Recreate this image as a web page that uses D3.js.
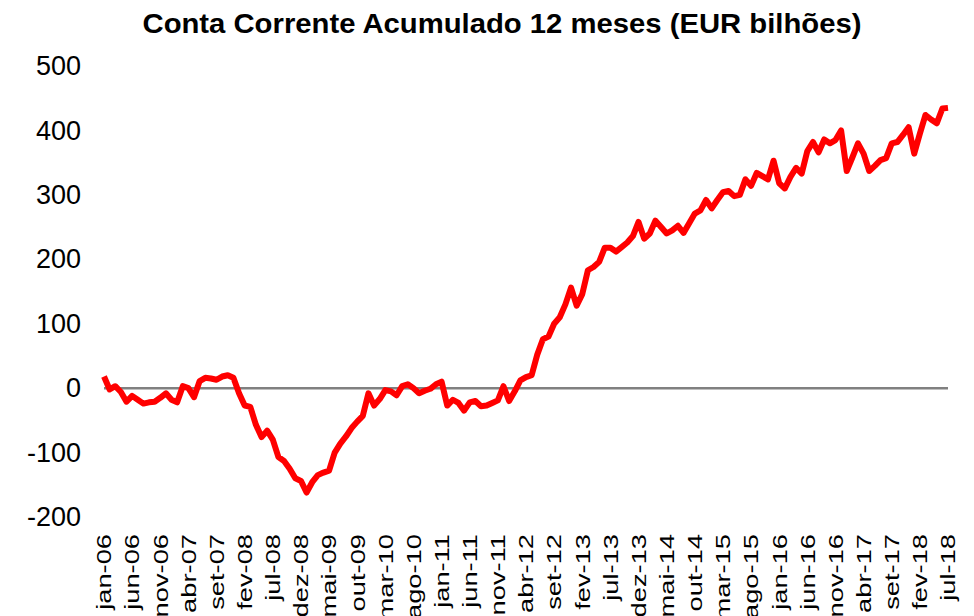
<!DOCTYPE html>
<html>
<head>
<meta charset="utf-8">
<script src="https://cdn.jsdelivr.net/npm/d3@7"></script>
<style>
  body { margin: 0; background: #fff; }
  svg { display: block; font-family: Arial, "Liberation Sans", sans-serif; }
</style>
</head>
<body>
<svg id="chart" width="974" height="616"></svg>
<script>
// month names (pt) and years covered: jan-06 .. jul-18
const monthNames = ["jan", "fev", "mar", "abr", "mai", "jun", "jul", "ago", "set", "out", "nov", "dez"];
const tickEvery = 5;

// 12-month cumulative current account, EUR bn
const values = [
   18,  -2,   3,  -6, -21, -12, -18, -24, -22, -21,
  -15,  -8, -18, -22,   3,   0, -14,  11,  16,  15,
   13,  18,  20,  16,  -8, -27, -29, -57, -76, -66,
  -80,-107,-113,-125,-140,-144,-162,-146,-135,-131,
 -128,-100, -86, -75, -62, -52, -43,  -8, -27, -17,
   -3,  -5, -11,   3,   6,   0,  -8,  -4,  -1,   6,
   10, -27, -18, -23, -35, -22, -20, -28, -27, -23,
  -19,   3, -20,  -5,  12,  17,  20,  52,  76,  80,
  100, 110, 130, 156, 128, 146, 183, 188, 196, 218,
  218, 212, 219, 226, 236, 258, 232, 240, 260, 250,
  240, 245, 252, 241, 256, 271, 276, 292, 279, 292,
  304, 306, 298, 300, 324, 314, 334, 329, 324, 353,
  318, 310, 328, 342, 333, 368, 382, 366, 386, 380,
  385, 400, 337, 358, 380, 364, 337, 345, 354, 357,
  380, 382, 393, 405, 364, 395, 424, 417, 411, 434,
  435
];

const yTicks = [-200, -100, 0, 100, 200, 300, 400, 500];

// category labels, e.g. "jan-06"
const categories = values.map((v, i) => {
    let m = i % 12, y = 6 + Math.floor(i / 12);
    return monthNames[m] + "-" + String(y).padStart(2, "0");
});

const svg = d3.select("#chart");

const x = d3.scalePoint()
    .domain(categories)
    .range([104, 948]);

const y = d3.scaleLinear()
    .domain([-200, 500])
    .range([517, 66]);

// title
svg.append("text")
    .attr("x", 502)
    .attr("y", 33)
    .attr("text-anchor", "middle")
    .attr("textLength", 719)
    .attr("lengthAdjust", "spacingAndGlyphs")
    .style("font-size", "28px")
    .style("font-weight", "bold")
    .text("Conta Corrente Acumulado 12 meses (EUR bilhões)");

// y axis labels (no axis line), plain hyphen for negatives
const yAxis = svg.append("g")
    .attr("transform", "translate(81,0)")
    .call(d3.axisLeft(y).tickValues(yTicks).tickSize(0).tickPadding(0).tickFormat(d => String(d)));
yAxis.select(".domain").remove();
yAxis.selectAll("text")
    .style("font-size", "27px")
    .style("font-family", "Arial, 'Liberation Sans', sans-serif")
    .attr("fill", "#000");

// zero line
svg.append("line")
    .attr("x1", x(categories[0]))
    .attr("x2", x(categories[categories.length - 1]))
    .attr("y1", y(0))
    .attr("y2", y(0))
    .style("stroke", "#808080")
    .style("stroke-width", 2.5);

// x tick labels, vertical
const xTicks = categories.filter((c, i) => i % tickEvery === 0);
svg.append("g")
    .selectAll(".x-label")
    .data(xTicks)
    .enter()
    .append("text")
    .attr("class", "x-label")
    .attr("transform", d => "translate(" + x(d) + ",534) rotate(-90) scale(1.3,1)")
    .attr("text-anchor", "end")
    .attr("dy", "0.35em")
    .style("font-size", "21px")
    .text(d => d);

// the series
const line = d3.line()
    .x((d, i) => x(categories[i]))
    .y(d => y(d));

svg.append("path")
    .datum(values)
    .attr("d", line)
    .style("fill", "none")
    .style("stroke", "#ff0000")
    .style("stroke-width", 6)
    .style("stroke-linejoin", "round");
</script>
</body>
</html>
